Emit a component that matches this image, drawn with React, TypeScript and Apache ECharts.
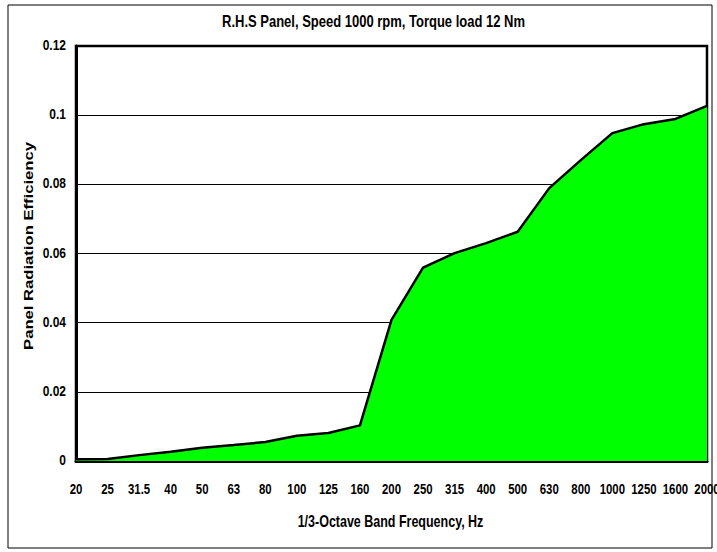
import React, { useEffect, useRef } from "react";
import * as echarts from "echarts";

const titleText = "R.H.S Panel, Speed 1000 rpm, Torque load 12 Nm";
const xAxisName = "1/3-Octave Band Frequency, Hz";
const yAxisName = "Panel Radiation Efficiency";
const frequencies = ["20", "25", "31.5", "40", "50", "63", "80", "100", "125", "160", "200", "250", "315", "400", "500", "630", "800", "1000", "1250", "1600", "2000"];
const efficiency = [0.0005, 0.0006, 0.0017, 0.0027, 0.0038, 0.0046, 0.0055, 0.0073, 0.0081, 0.0103, 0.0408, 0.0559, 0.0601, 0.063, 0.0663, 0.0789, 0.087, 0.0948, 0.0974, 0.0989, 0.1027];
const yTickValues = [0, 0.02, 0.04, 0.06, 0.08, 0.1, 0.12];
const yTickLabels = ["0", "0.02", "0.04", "0.06", "0.08", "0.1", "0.12"];

const FONT = "'Liberation Sans', Arial, Helvetica, sans-serif";

function txt(text: string, x: number, y: number, size: number, align: string, opts: any = {}) {
  return {
    type: "text",
    x,
    y,
    scaleX: opts.scaleX ?? 1,
    scaleY: opts.scaleY ?? 1,
    rotation: opts.rotation ?? 0,
    silent: true,
    z: 100,
    style: {
      text,
      fill: "#000",
      font: `bold ${size}px ${FONT}`,
      textAlign: align,
      textVerticalAlign: "middle",
      align,
      verticalAlign: "middle",
    },
  };
}

export default function App() {
  const ref = useRef<HTMLDivElement>(null);
  useEffect(() => {
    if (!ref.current) return;
    const chart = echarts.init(ref.current, undefined, { renderer: "svg" });
    chart.setOption({
      animation: false,
      backgroundColor: "#ffffff",
      grid: {
        left: 76,
        right: 10,
        top: 46,
        bottom: 91,
        show: true,
        borderColor: "#000",
        borderWidth: 2.5,
        backgroundColor: "transparent",
        containLabel: false,
      },
      xAxis: {
        type: "category",
        data: frequencies,
        boundaryGap: false,
        axisLine: { show: true, lineStyle: { color: "#000", width: 3 } },
        axisTick: { show: true, inside: true, length: 5, alignWithLabel: true, lineStyle: { color: "#000", width: 1 } },
        axisLabel: { show: false },
        splitLine: { show: false },
      },
      yAxis: {
        type: "value",
        min: yTickValues[0],
        max: yTickValues[yTickValues.length - 1],
        interval: 0.02,
        axisLine: { show: true, lineStyle: { color: "#000", width: 3 } },
        axisTick: { show: false },
        axisLabel: { show: false },
        splitLine: { show: true, lineStyle: { color: "#000", width: 1 } },
      },
      series: [
        {
          type: "line",
          data: efficiency,
          symbol: "none",
          lineStyle: { color: "#000", width: 2.5 },
          areaStyle: { color: "#00ff00", opacity: 1 },
          z: 3,
        },
      ],
    });

    const graphics: any[] = [
      {
        type: "rect",
        shape: { x: 8, y: 5, width: 704, height: 543 },
        style: { fill: "none", stroke: "#000", lineWidth: 1 },
        silent: true,
      },
      txt(titleText, 373.5, 21, 13, "center", { scaleY: 1.27 }),
      txt(xAxisName, 390.5, 521.5, 12.5, "center", { scaleY: 1.27 }),
      txt(yAxisName, 28.5, 246, 13, "center", { rotation: Math.PI / 2, scaleX: 1.28 }),
    ];
    frequencies.forEach((f, i) => {
      const p = chart.convertToPixel({ gridIndex: 0 }, [i, 0]) as number[];
      graphics.push(txt(f, p[0], 488.8, 11.4, "center", { scaleY: 1.34 }));
    });
    yTickValues.forEach((v, i) => {
      const p = chart.convertToPixel({ gridIndex: 0 }, [0, v]) as number[];
      graphics.push(txt(yTickLabels[i], 66, p[1] - 1, 12, "right", { scaleY: 1.28 }));
    });
    chart.setOption({ graphic: graphics });

    return () => chart.dispose();
  }, []);
  return <div ref={ref} style={{ position: "fixed", left: 0, top: 0, width: 717, height: 552 }} />;
}
